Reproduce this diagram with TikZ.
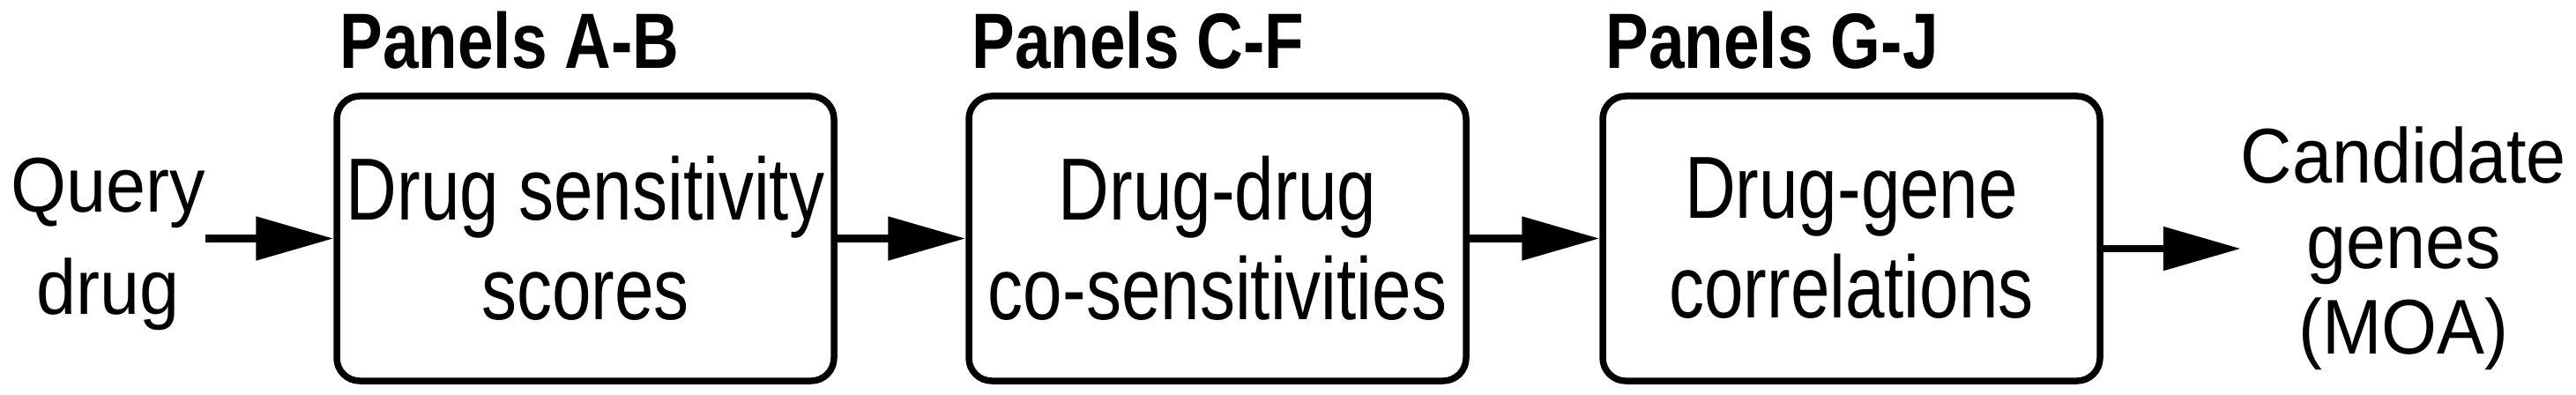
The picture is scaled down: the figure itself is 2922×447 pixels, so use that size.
\documentclass[tikz,border=0pt]{standalone}
\usepackage{fontspec}
\setmainfont{Liberation Sans}
\newfontfamily\stagefont{Liberation Sans}[FakeStretch=0.8]
\newfontfamily\iofont{Liberation Sans}[FakeStretch=0.92]
\newfontfamily\panelfont{Liberation Sans}[FakeStretch=0.82]
\usetikzlibrary{arrows.meta, positioning}

\begin{document}
\begin{tikzpicture}[x=1pt, y=1pt,
    stage/.style={draw, line width=7.5pt, rounded corners=26pt, minimum width=564pt,
      minimum height=323pt, inner sep=0pt, align=center,
      font=\stagefont\fontsize{100}{113}\selectfont},
    io/.style={inner sep=0pt, align=center, font=\iofont\fontsize{88}{116}\selectfont},
    panel/.style={inner sep=0pt, anchor=base west,
      font=\panelfont\bfseries\fontsize{89}{100}\selectfont},
    flow/.style={line width=8.5pt, -{Triangle[length=88pt, width=48pt]}}]
  \useasboundingbox (0,0) rectangle (2922,447);
  % ---- the three analysis stages ----
  \node[stage] (sens)   at (664,176.5)  {Drug sensitivity\\scores};
  \node[stage] (cosens) at (1381,176.5) {Drug-drug\\co-sensitivities};
  \node[stage] (corr)   at (2100,176.5) {Drug-gene\\correlations};
  \node[panel] (pAB) at ([xshift=7pt, yshift=28pt]sens.north west)   {Panels A-B};
  \node[panel] (pCF) at ([xshift=7pt, yshift=28pt]cosens.north west) {Panels C-F};
  \node[panel] (pGJ) at ([xshift=7pt, yshift=28pt]corr.north west)   {Panels G-J};
  % ---- input and output ----
  \node[io] (query) at (122.5,170) {Query\\drug};
  \node[io, font=\iofont\fontsize{88}{97}\selectfont] (cand) at (2726.5,165)
    {Candidate\\genes\\(MOA)};
  \draw[flow] (query.east |- sens.west) -- (sens.west);
  \draw[flow] (sens) -- (cosens);
  \draw[flow] (cosens) -- (corr);
  \draw[flow] (corr.east |- cand.west) -- (cand.west);
\end{tikzpicture}
\end{document}
